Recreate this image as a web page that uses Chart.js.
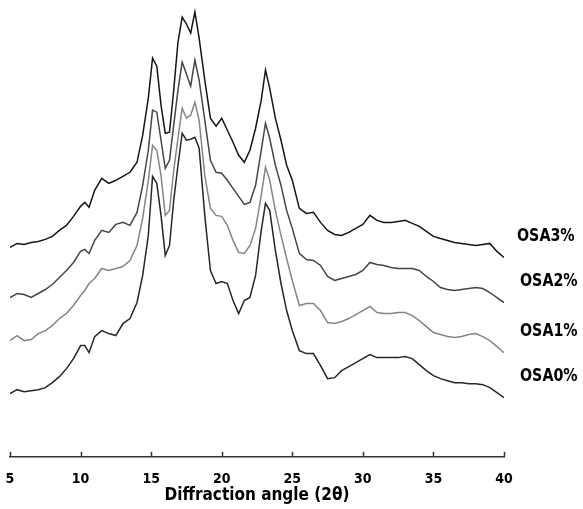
<!DOCTYPE html>
<html>
<head>
<meta charset="utf-8">
<script src="https://cdn.jsdelivr.net/npm/chart.js@4"></script>
<style>
  html, body { margin: 0; padding: 0; background: #fff; }
  #wrap { width: 583px; height: 509px; }
</style>
</head>
<body>
<div id="wrap"><canvas id="xrd"></canvas></div>
<script>
/* ----------- Data ----------- */
const angles = [5.0, 5.5, 6.0, 6.5, 7.0, 7.5, 8.0, 8.5, 9.0, 9.5, 10.0, 10.3, 10.6, 11.0, 11.5, 12.0, 12.5, 13.0, 13.5, 14.0,
  14.4, 14.8, 15.1, 15.4, 15.7, 16.0, 16.3, 16.6, 16.9, 17.2, 17.5, 17.8, 18.1, 18.4, 18.8, 19.2, 19.6, 20.0, 20.4, 20.8,
  21.2, 21.6, 22.0, 22.4, 22.8, 23.1, 23.4, 23.8, 24.2, 24.6, 25.0, 25.5, 26.0, 26.5, 27.0, 27.5, 28.0, 28.5, 29.0, 29.5,
  30.0, 30.5, 31.0, 31.5, 32.0, 32.5, 33.0, 33.5, 34.0, 34.5, 35.0, 35.5, 36.0, 36.5, 37.0, 37.5, 38.0, 38.5, 39.0, 39.5, 40.0];

const osa3 = [209, 213, 212, 214, 215, 217, 220, 226, 231, 240, 250, 254, 249, 266, 278, 273, 276, 280, 284, 294,
  321, 358, 398, 390, 351, 323, 324, 366, 414, 439, 432, 423, 444, 418, 376, 338, 330, 338, 326, 314,
  301, 294, 306, 328, 356, 386, 368, 338, 316, 291, 276, 248, 243, 244, 234, 226, 222, 221, 224, 228,
  232, 241, 236, 234, 234, 235, 236, 233, 230, 225, 220, 218, 216, 214, 213, 212, 211, 212, 213, 205, 199];

const osa2 = [159, 163, 162, 159, 163, 167, 172, 179, 186, 194, 205, 207, 203, 216, 226, 224, 232, 234, 231, 244,
  271, 306, 346, 344, 316, 288, 296, 331, 366, 394, 382, 370, 396, 376, 336, 296, 284, 283, 276, 268,
  260, 252, 254, 271, 306, 333, 318, 291, 271, 246, 228, 203, 197, 196, 191, 180, 176, 178, 180, 182,
  186, 194, 192, 191, 189, 188, 188, 188, 186, 180, 175, 169, 167, 166, 167, 168, 169, 168, 164, 159, 154];

const osa1 = [116, 121, 116, 117, 123, 126, 131, 138, 143, 151, 161, 166, 173, 178, 188, 186, 188, 190, 196, 211,
  238, 276, 311, 306, 281, 241, 246, 286, 318, 348, 338, 341, 354, 336, 281, 248, 241, 240, 231, 216,
  204, 203, 211, 228, 261, 289, 276, 246, 221, 198, 176, 151, 153, 153, 146, 134, 133, 135, 138, 142,
  146, 150, 144, 143, 143, 144, 144, 141, 136, 130, 124, 122, 120, 119, 120, 122, 123, 120, 116, 110, 104];

const osa0 = [63, 67, 65, 66, 67, 69, 74, 80, 88, 98, 111, 111, 104, 120, 126, 123, 121, 133, 138, 154,
  181, 221, 280, 273, 241, 201, 211, 256, 291, 323, 316, 317, 319, 308, 241, 186, 173, 175, 173, 156,
  143, 156, 159, 181, 226, 253, 246, 206, 173, 146, 126, 106, 103, 103, 91, 78, 79, 86, 90, 94,
  98, 102, 99, 99, 99, 99, 100, 98, 92, 86, 81, 78, 76, 74, 74, 73, 73, 72, 69, 64, 59];

const seriesNames = ['OSA3%', 'OSA2%', 'OSA1%', 'OSA0%'];
const seriesColors = ['#151515', '#454545', '#858585', '#262626'];
const xTicks = [5, 10, 15, 20, 25, 30, 35, 40];

const FONT = "'Liberation Sans Narrow', 'DejaVu Sans Condensed', 'Liberation Sans', sans-serif";

function toPoints(values){
    return values.map((v, i) => ({ x: angles[i], y: v }));
}

/* ----------- Plugins ----------- */
// short tick marks pointing up from the x axis
const upTicks = {
    id: 'upTicks',
    afterDraw(chart){
        const ctx = chart.ctx;
        const xs = chart.scales.x;
        const y0 = chart.chartArea.bottom;
        ctx.save();
        ctx.strokeStyle = '#333';
        ctx.lineWidth = 1.5;
        xTicks.forEach(t => {
            const px = Math.round(xs.getPixelForValue(t)) + 0.5;
            ctx.beginPath();
            ctx.moveTo(px, y0);
            ctx.lineTo(px, y0 - 5);
            ctx.stroke();
        });
        ctx.restore();
    }
};

// series names on the right, above each trace end (drawn a bit condensed)
const endLabels = {
    id: 'endLabels',
    afterDatasetsDraw(chart){
        const ctx = chart.ctx;
        chart.data.datasets.forEach((ds, i) => {
            const meta = chart.getDatasetMeta(i);
            const last = meta.data[meta.data.length - 1];
            const dx = i === 0 ? 13 : 16;
            ctx.save();
            ctx.translate(chart.chartArea.right + dx, last.y - 21);
            ctx.scale(0.88, 1);
            ctx.font = 'bold 18px ' + FONT;
            ctx.fillStyle = '#000';
            ctx.textBaseline = 'middle';
            ctx.textAlign = 'left';
            ctx.fillText(ds.label, 0, 0);
            ctx.restore();
        });
    }
};

/* ----------- Chart ----------- */
const allSeries = [osa3, osa2, osa1, osa0];

new Chart(document.getElementById('xrd').getContext('2d'), {
    type: 'line',
    data: {
        datasets: allSeries.map((vals, i) => ({
            label: seriesNames[i],
            data: toPoints(vals),
            borderColor: seriesColors[i],
            borderWidth: 1.5,
            pointRadius: 0,
            tension: 0,
            fill: false
        }))
    },
    options: {
        responsive: true,
        maintainAspectRatio: false,
        animation: false,
        layout: { padding: { left: 10, right: 79, top: 5, bottom: 3 } },
        plugins: {
            legend: { display: false },
            tooltip: { enabled: false }
        },
        scales: {
            x: {
                type: 'linear',
                min: 5,
                max: 40,
                afterBuildTicks: scale => { scale.ticks = xTicks.map(v => ({ value: v })); },
                afterFit: scale => { scale.paddingLeft = 0; scale.paddingRight = 0; },
                grid: { display: false, drawTicks: false },
                border: { display: true, color: '#333', width: 1.5 },
                ticks: {
                    padding: 14,
                    color: '#000',
                    font: { family: FONT, size: 14, weight: 'bold' },
                    maxRotation: 0
                },
                title: {
                    display: true,
                    text: 'Diffraction angle (2θ)',
                    color: '#000',
                    font: { family: FONT, size: 17, weight: 'bold' },
                    padding: { top: -16, bottom: 0 }
                }
            },
            y: {
                display: false,
                min: 0,
                max: 451
            }
        }
    },
    plugins: [upTicks, endLabels]
});
</script>
</body>
</html>
